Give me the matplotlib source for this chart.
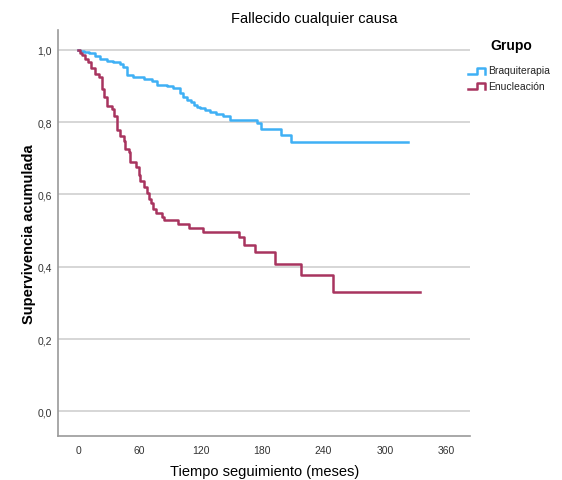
"""Curva de supervivencia Kaplan-Meier: fallecido por cualquier causa."""

import matplotlib

matplotlib.use("Agg")
import matplotlib.pyplot as plt  # noqa: E402
from matplotlib.lines import Line2D  # noqa: E402

plt.rcParams["font.family"] = ["Liberation Sans", "DejaVu Sans"]

# Braquiterapia: tiempos (meses) y supervivencia tras cada evento
braqui_t = [0, 2, 6, 11, 16, 21, 28, 34, 41, 44, 47.5, 54, 62, 64, 72, 77, 87, 93,
            100, 103, 106, 110, 113, 116, 119, 124, 129, 135, 142, 148, 175, 179,
            198, 208, 323]
braqui_s = [1.0, 0.997, 0.994, 0.99, 0.982, 0.976, 0.970, 0.966, 0.960, 0.952, 0.931,
            0.926, 0.924, 0.918, 0.913, 0.903, 0.899, 0.894, 0.880, 0.870, 0.862,
            0.855, 0.848, 0.843, 0.838, 0.834, 0.829, 0.823, 0.817, 0.805, 0.797,
            0.781, 0.765, 0.746, 0.746]

# Enucleación
enuc_t = [0, 2, 3.5, 7, 10, 13, 16.5, 20, 23, 25, 28, 33, 35, 37.5, 41, 45, 46, 50,
          51, 57, 59, 60.5, 64, 67.5, 69, 71, 73.5, 76, 82, 83.5, 97.5, 108, 122.5,
          157.5, 162.5, 173, 192.5, 217.5, 249, 334]
enuc_s = [1.0, 0.99, 0.985, 0.975, 0.966, 0.95, 0.934, 0.924, 0.892, 0.869, 0.846,
          0.837, 0.818, 0.777, 0.763, 0.749, 0.726, 0.717, 0.689, 0.675, 0.655,
          0.638, 0.620, 0.605, 0.588, 0.575, 0.560, 0.549, 0.538, 0.528, 0.518,
          0.507, 0.495, 0.481, 0.461, 0.440, 0.408, 0.377, 0.329, 0.329]

x_ticks = [0, 60, 120, 180, 240, 300, 360]
y_ticks = [0.0, 0.2, 0.4, 0.6, 0.8, 1.0]

BLUE = "#3FB0F5"
RED = "#A8345F"

fig = plt.figure(figsize=(5.62, 4.81), dpi=100)
ax = fig.add_axes([0.1027, 0.0925, 0.7333, 0.8431])

for y in y_ticks:
    ax.axhline(y, color="#D3D3D3", linewidth=1.3, zorder=0)

ax.plot(braqui_t, braqui_s, drawstyle="steps-post", color=BLUE, linewidth=1.8)
ax.plot(enuc_t, enuc_s, drawstyle="steps-post", color=RED, linewidth=1.8)

ax.set_xlim(-20, 383)
ax.set_ylim(-0.067, 1.055)
ax.set_xticks(x_ticks, [str(v) for v in x_ticks])
ax.set_yticks(y_ticks, [f"{v:.1f}".replace(".", ",") for v in y_ticks])
ax.tick_params(length=0, labelsize=7.5, colors="#333333", pad=4)
ax.tick_params(axis="x", pad=7)
ax.spines[["top", "right"]].set_visible(False)
ax.spines[["left", "bottom"]].set_color("#9A9A9A")
ax.spines[["left", "bottom"]].set_linewidth(1.2)

ax.set_ylabel("Supervivencia acumulada", fontsize=10.5, fontweight="bold", labelpad=1)
fig.text(0.47, 0.018, "Tiempo seguimiento (meses)", ha="center", va="center", fontsize=10.5)
fig.text(0.56, 0.96, "Fallecido cualquier causa", ha="center", va="center", fontsize=10.5)

# leyenda con iconos escalonados
W, H = 562, 481
fig.text(490 / W, 1 - 46 / H, "Grupo", ha="left", va="center", fontsize=10, fontweight="bold")
for name, color, yc in [("Braquiterapia", BLUE, 71.5), ("Enucleación", RED, 87)]:
    xs = [468, 477, 477, 485, 485]
    ys = [yc + 3, yc + 3, yc - 3, yc - 3, yc + 3]
    fig.add_artist(Line2D([x / W for x in xs], [1 - y / H for y in ys],
                          color=color, linewidth=1.8, transform=fig.transFigure))
    fig.text(488 / W, 1 - yc / H, name, ha="left", va="center", fontsize=7.5, color="#222222")

fig.savefig("out.png", dpi=100, facecolor="white")
